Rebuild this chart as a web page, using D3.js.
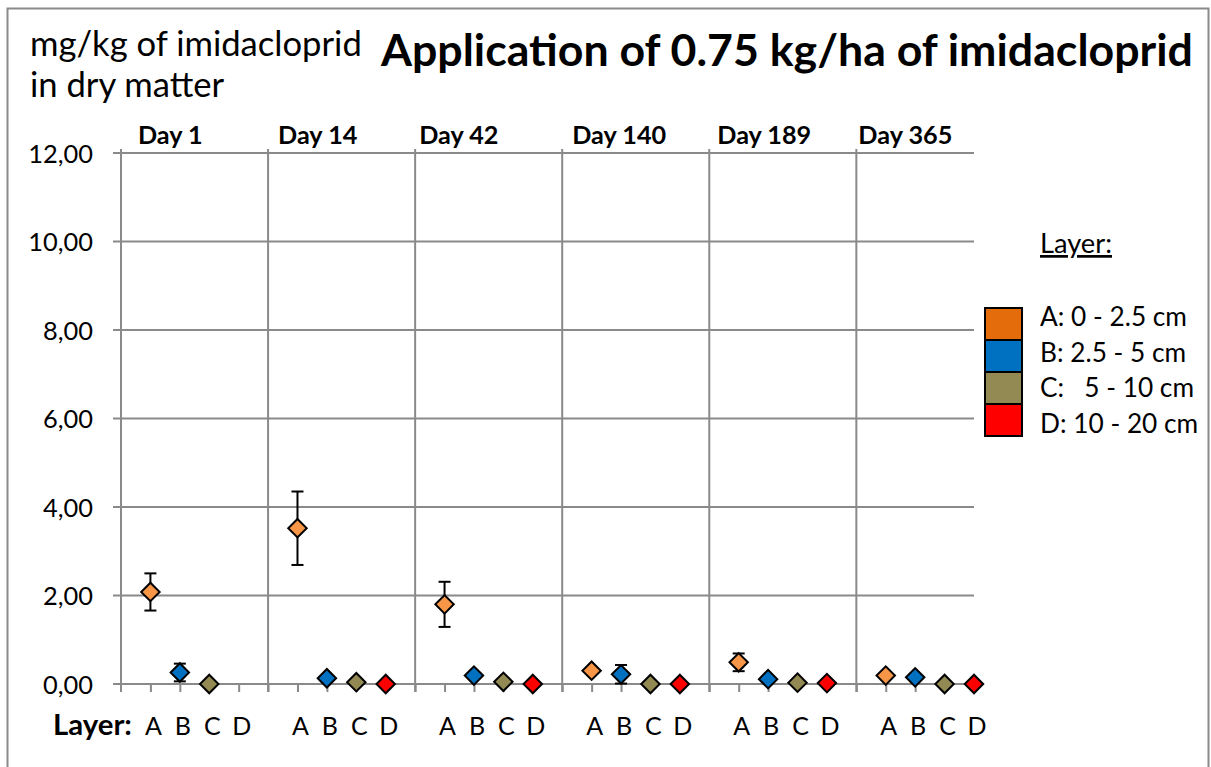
<!DOCTYPE html>
<html>
<head>
<meta charset="utf-8">
<script src="https://cdn.jsdelivr.net/npm/d3@7/dist/d3.min.js"></script>
<style>
  html, body { margin: 0; padding: 0; background: #fff; }
  svg { display: block; }
  text { font-family: Lato, "Liberation Sans", sans-serif; fill: #000; }
</style>
</head>
<body>
<svg id="chart" width="1211" height="767"></svg>
<script>
// ---------- DATA ----------
const days = ["Day 1", "Day 14", "Day 42", "Day 140", "Day 189", "Day 365"];
const layers = ["A", "B", "C", "D"];
const legendLabels = ["A: 0 - 2.5 cm", "B: 2.5 - 5 cm", "C:   5 - 10 cm", "D: 10 - 20 cm"];
const meanA = [2.08, 3.52, 1.80, 0.30, 0.49, 0.19];
const meanB = [0.26, 0.13, 0.19, 0.22, 0.11, 0.15];
const meanC = [0.00, 0.04, 0.05, 0.00, 0.03, 0.00];
const meanD = [null, 0.00, 0.00, 0.00, 0.02, 0.00];
const errA = [0.42, 0.83, 0.51, 0.03, 0.20, 0.02];
const errB = [0.20, 0.05, 0.05, 0.21, 0.03, 0.03];
const errC = [0, 0, 0, 0, 0, 0];
const errD = [0, 0, 0, 0, 0, 0];
const yTicks = [0, 2, 4, 6, 8, 10, 12];
const title = "Application of 0.75 kg/ha of imidacloprid";
const yTitle = ["mg/kg of imidacloprid", "in dry matter"];

const markerColors = ["#F79646", "#0070C0", "#938953", "#FF0000"];
const legendColors = ["#E46C0A", "#0070C0", "#938953", "#FF0000"];

// ---------- LAYOUT ----------
const svg = d3.select("#chart");
const pLeft = 121, pRight = 974, pTop = 153, pBottom = 684;
const x = d3.scaleLinear().domain([0, 29]).range([pLeft, pRight]);
const y = d3.scaleLinear().domain([0, 12]).range([pBottom, pTop]);
const gridColor = "#8a8a8a";

function fit(sel, target) {
  sel.style("font-size", "20px");
  const len = sel.node().getComputedTextLength();
  const fs = 20 * target / len;
  sel.style("font-size", fs + "px");
  return fs;
}

// outer frame
svg.append("rect").attr("x", 7.5).attr("y", 8.5).attr("width", 1201).attr("height", 770)
  .attr("fill", "none").attr("stroke", "#8a8a8a").attr("stroke-width", 2);

// horizontal gridlines
svg.append("g").selectAll("line").data(yTicks).join("line")
  .attr("x1", pLeft - 8).attr("x2", pRight)
  .attr("y1", d => y(d)).attr("y2", d => y(d))
  .attr("stroke", gridColor).attr("stroke-width", 2);

// vertical separators (group boundaries) incl. y-axis
const seps = days.map((d, i) => i * 5);
svg.append("g").selectAll("line").data(seps).join("line")
  .attr("x1", d => x(d)).attr("x2", d => x(d))
  .attr("y1", pTop - 4).attr("y2", pBottom + 8)
  .attr("stroke", gridColor).attr("stroke-width", 2);

// x-axis minor ticks
const xAxis = d3.axisBottom(x).tickValues(d3.range(1, 30)).tickSize(8).tickFormat("");
const gx = svg.append("g").attr("transform", `translate(0,${pBottom})`).call(xAxis);
gx.select(".domain").remove();
gx.selectAll(".tick line").attr("stroke", gridColor).attr("stroke-width", 2);

// y-axis labels
const yAxis = d3.axisLeft(y).tickValues(yTicks).tickSize(0)
  .tickFormat(d => d.toFixed(2).replace(".", ","));
const gy = svg.append("g").attr("transform", `translate(93,0)`).call(yAxis);
gy.attr("font-family", null).attr("font-size", null);
gy.select(".domain").remove();
gy.selectAll(".tick text").attr("x", 0).attr("dy", "0.36em");
{
  const probe = svg.append("text").text("2,00");
  const fs = fit(probe, 50);
  probe.remove();
  gy.selectAll(".tick text").style("font-size", fs + "px");
}

// Title
const tt = svg.append("text").attr("x", 381).attr("y", 66).style("font-weight", "bold").text(title);
fit(tt, 812);

// Y title
const yt1 = svg.append("text").attr("x", 30).attr("y", 56).text(yTitle[0]);
const yfs = fit(yt1, 332);
svg.append("text").attr("x", 30).attr("y", 97).style("font-size", yfs + "px").text(yTitle[1]);

// Day labels
const dayOffsets = [17, 10, 4, 10, 8, 2];
const dl = svg.append("g").selectAll("text").data(days).join("text")
  .attr("x", (d, i) => x(i * 5) + dayOffsets[i]).attr("y", 144)
  .style("font-weight", "bold").text(d => d);
{
  const fs = fit(d3.select(dl.nodes()[3]), 94);
  dl.style("font-size", fs + "px");
}

// Layer letters under axis
const letters = [];
days.forEach((d, i) => layers.forEach((l, j) => letters.push({ l, u: i * 5 + j + 1 })));
const lbl = svg.append("text").attr("x", 53).attr("y", 735).style("font-weight", "bold").text("Layer:");
fit(lbl, 79);
const lt = svg.append("g").selectAll("text").data(letters).join("text")
  .attr("x", d => x(d.u) + 3).attr("y", 735).attr("text-anchor", "middle")
  .style("font-size", "25px").text(d => d.l);

// ---------- DATA MARKS ----------
const means = [meanA, meanB, meanC, meanD];
const errs = [errA, errB, errC, errD];
const pts = [];
days.forEach((d, i) => layers.forEach((l, j) => {
  const v = means[j][i];
  if (v !== null) pts.push({ u: i * 5 + j + 1, v, e: errs[j][i], c: markerColors[j] });
}));

const eb = svg.append("g").selectAll("g").data(pts.filter(p => p.e > 0)).join("g")
  .attr("stroke", "#000").attr("stroke-width", 2);
eb.append("line").attr("x1", d => x(d.u)).attr("x2", d => x(d.u))
  .attr("y1", d => y(d.v + d.e)).attr("y2", d => y(Math.max(0, d.v - d.e)));
eb.append("line").attr("x1", d => x(d.u) - 6).attr("x2", d => x(d.u) + 6)
  .attr("y1", d => y(d.v + d.e)).attr("y2", d => y(d.v + d.e));
eb.append("line").attr("x1", d => x(d.u) - 6).attr("x2", d => x(d.u) + 6)
  .attr("y1", d => y(Math.max(0, d.v - d.e))).attr("y2", d => y(Math.max(0, d.v - d.e)));

const sym = d3.symbol().type(d3.symbolSquare).size(170);
svg.append("g").selectAll("path").data(pts).join("path")
  .attr("d", sym)
  .attr("transform", d => `translate(${x(d.u)},${y(d.v)}) rotate(45)`)
  .attr("fill", d => d.c).attr("stroke", "#000").attr("stroke-width", 2);

// ---------- LEGEND ----------
const lgTitle = svg.append("text").attr("x", 1040).attr("y", 253)
  .style("text-decoration", "underline").text("Layer:");
fit(lgTitle, 72);
const lg = svg.append("g");
lg.selectAll("rect").data(legendColors).join("rect")
  .attr("x", 985).attr("y", (d, i) => 308 + i * 32).attr("width", 37).attr("height", 32)
  .attr("fill", d => d).attr("stroke", "#000").attr("stroke-width", 2);
const lgt = lg.selectAll("text").data(legendLabels).join("text")
  .attr("x", 1040).attr("y", (d, i) => 326 + i * 35.6)
  .attr("xml:space", "preserve").style("white-space", "pre").text(d => d);
{
  const fs = fit(d3.select(lgt.nodes()[0]), 147);
  lgt.style("font-size", fs + "px");
}
</script>
</body>
</html>
